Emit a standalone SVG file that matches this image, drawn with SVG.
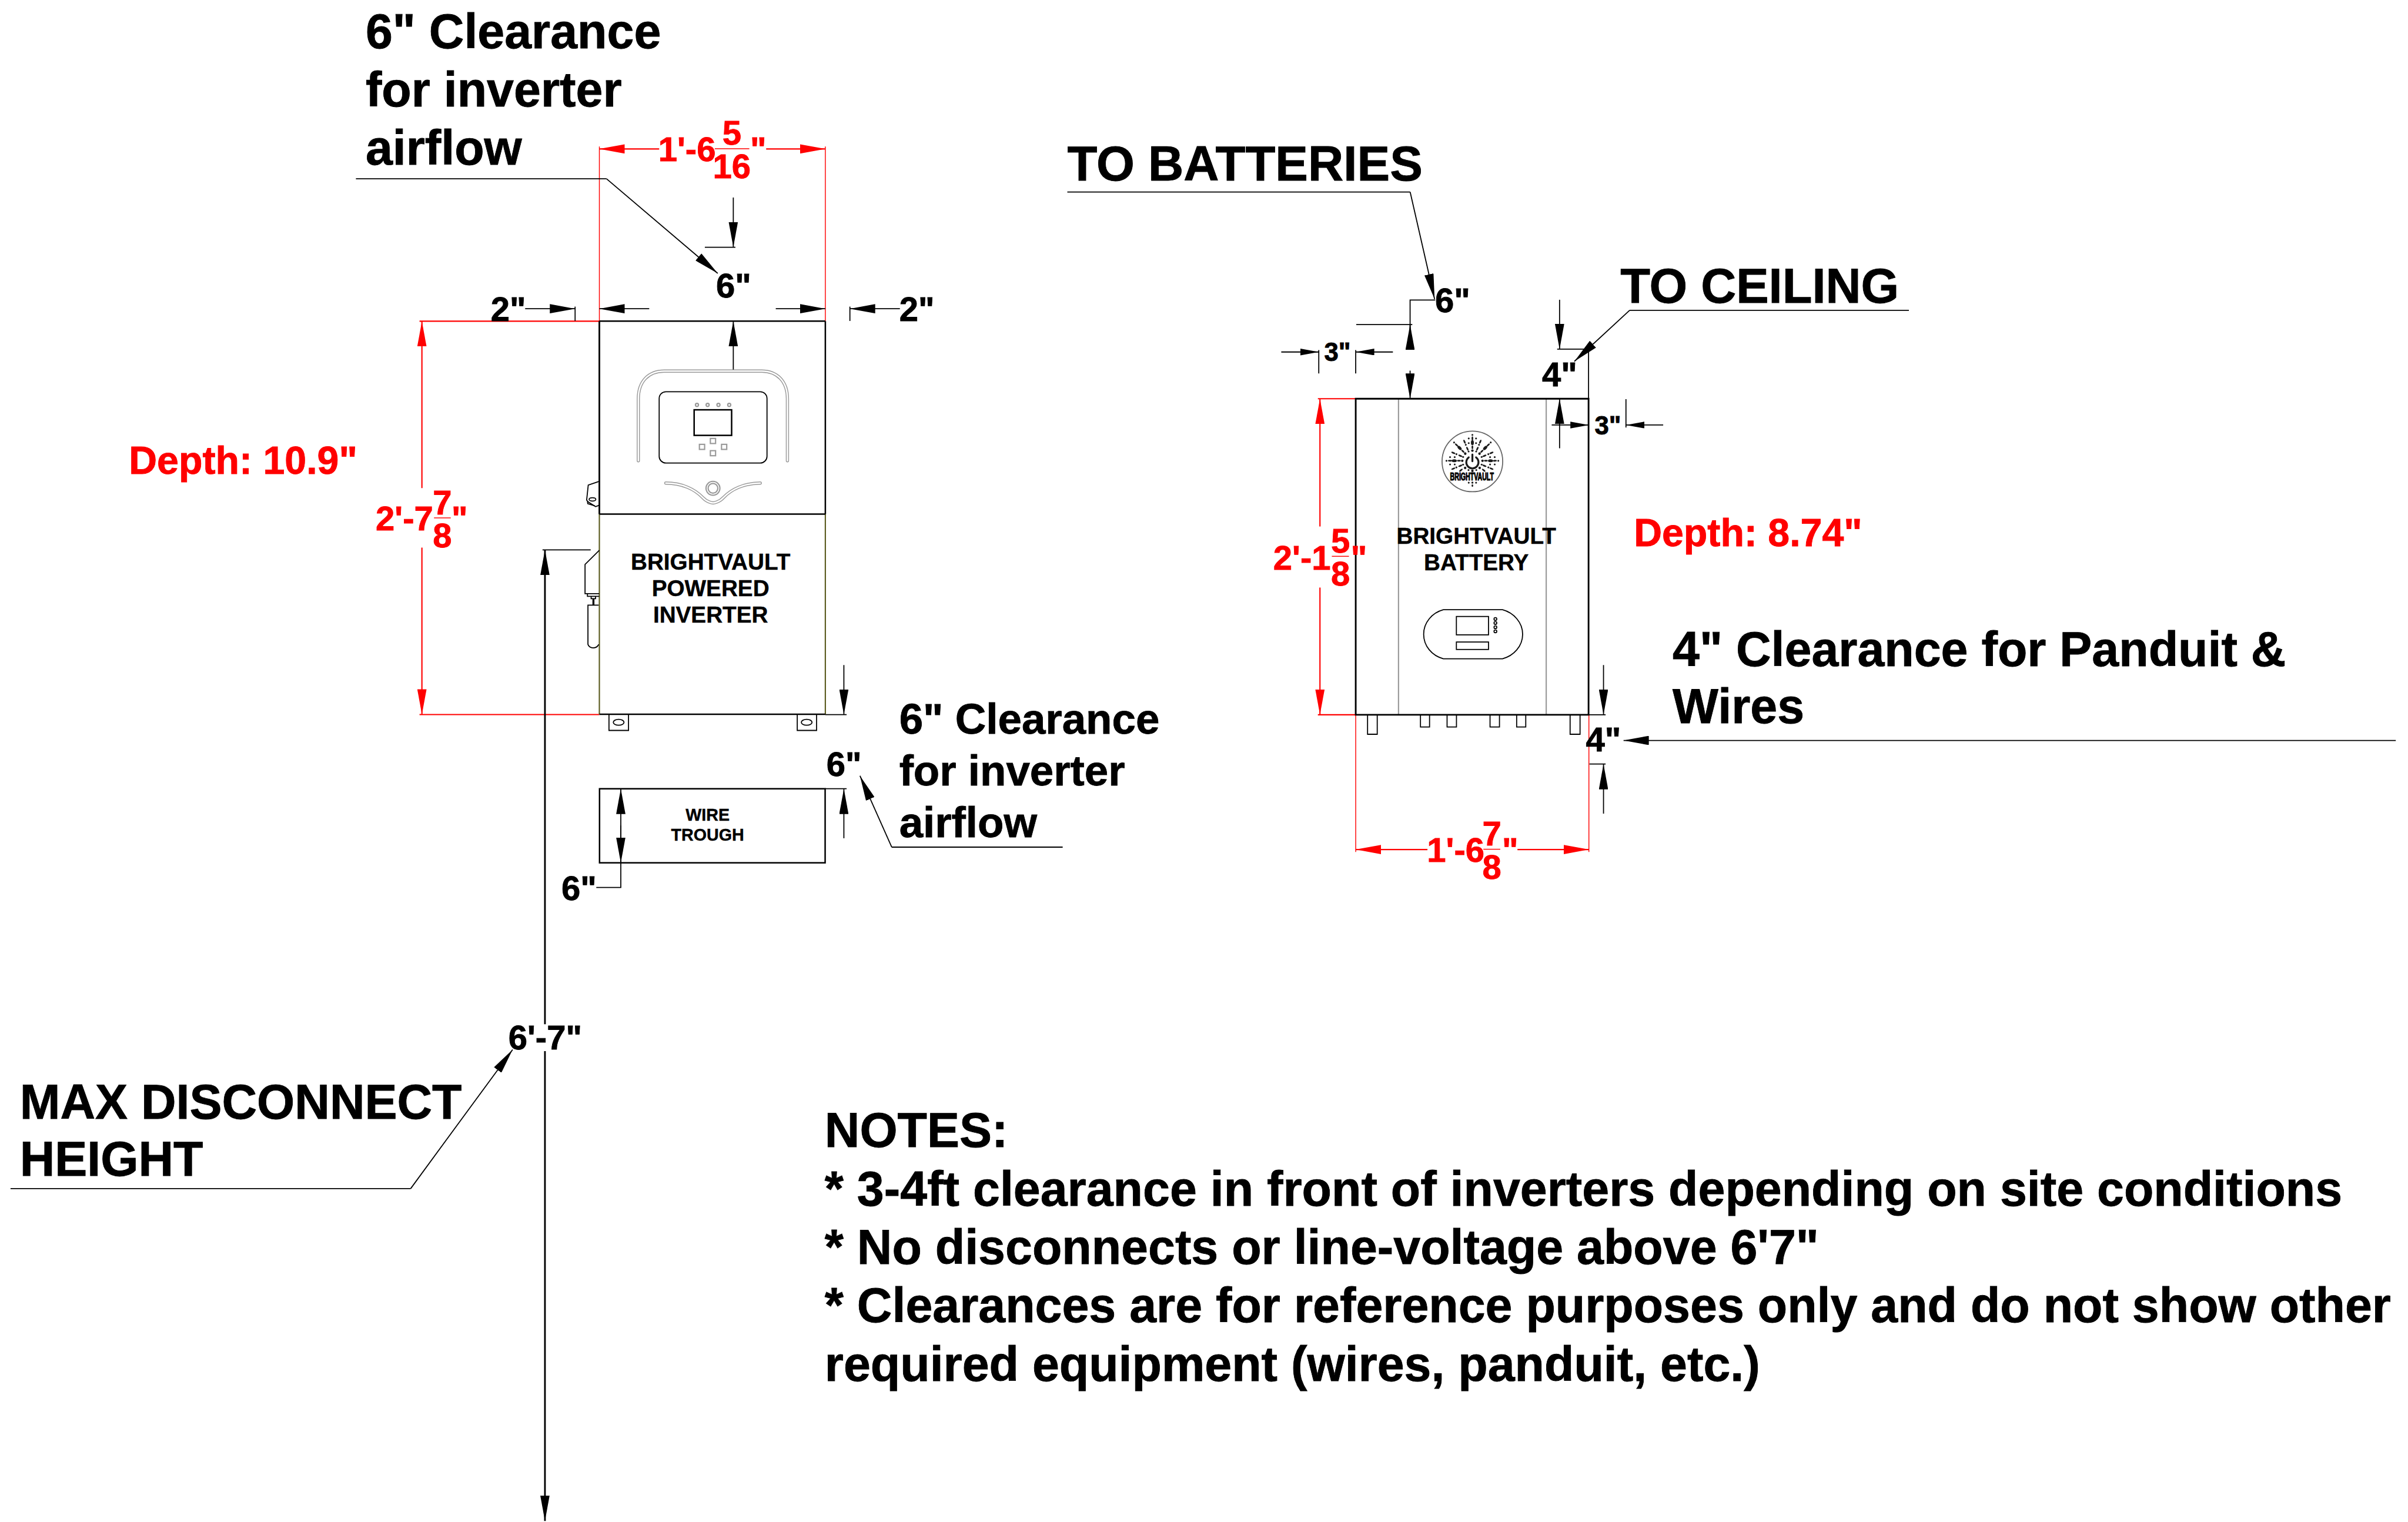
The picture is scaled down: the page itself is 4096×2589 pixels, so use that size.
<svg xmlns="http://www.w3.org/2000/svg" xmlns:xlink="http://www.w3.org/1999/xlink" width="4096" height="2589" viewBox="0 0 4096 2589">
<style>
text{font-family:"Liberation Sans",Arial,sans-serif;font-weight:700;fill:#000;stroke:#000;stroke-width:1.2px}
.r{fill:#f00;stroke:#f00}
.d{font-size:81px}
.s{font-size:61px}
.b{font-size:115.2px}
.m{font-size:101.5px}
.l{font-size:54px;stroke-width:.6px}
.t{font-size:40px;stroke-width:.6px}
.dp{font-size:92.5px}
.c{text-anchor:middle}
.k{fill:none;stroke:#000;stroke-width:2.5}
.h{fill:none;stroke:#000;stroke-width:3.5}
.o{fill:none;stroke:#000;stroke-width:4}
.rl{fill:none;stroke:#f00;stroke-width:3}
.rt{fill:none;stroke:#f00;stroke-width:2}
.g{fill:none;stroke:#999;stroke-width:3}
.gw{fill:none;stroke:#999;stroke-width:7.5;stroke-linecap:round;stroke-linejoin:round}
.ww{fill:none;stroke:#fff;stroke-width:3.5;stroke-linecap:round;stroke-linejoin:round}
.ol{fill:none;stroke:#5c5c20;stroke-width:3}
.a{marker-end:url(#ah)}
.as{marker-end:url(#ahs)}
.ar{marker-end:url(#ahr)}
.lg{fill:#1c1c1c}
</style>
<defs>
<marker id="ah" markerUnits="userSpaceOnUse" markerWidth="62" markerHeight="22" refX="60" refY="11" orient="auto"><path d="M0,0L60,11L0,22Z" fill="#000"/></marker>
<marker id="ahs" markerUnits="userSpaceOnUse" markerWidth="46" markerHeight="17" refX="44" refY="8" orient="auto"><path d="M0,0L44,8L0,16Z" fill="#000"/></marker>
<marker id="ahr" markerUnits="userSpaceOnUse" markerWidth="62" markerHeight="22" refX="60" refY="11" orient="auto"><path d="M0,0L60,11L0,22Z" fill="#f00"/></marker>
<g id="ray" class="lg">
<circle cx="24" cy="0" r="3"/><ellipse cx="32" cy="0" rx="4.5" ry="2"/><ellipse cx="43" cy="0" rx="6" ry="3.5"/><ellipse cx="53" cy="0" rx="5" ry="2"/><circle cx="61.5" cy="0" r="2.2"/>
</g>
<g id="side" class="lg">
<circle cx="42" cy="-8.7" r="2.2"/><circle cx="42" cy="8.7" r="2.2"/><circle cx="53" cy="-8.7" r="2.2"/><circle cx="53" cy="8.7" r="2.2"/><circle cx="22" cy="-9" r="2.2"/><circle cx="22" cy="9" r="2.2"/>
</g>
<g id="mini" class="lg">
<ellipse cx="31" cy="0" rx="5" ry="2"/><circle cx="41" cy="0" r="2.2"/><ellipse cx="49" cy="0" rx="5" ry="2"/>
</g>
</defs>
<rect x="0" y="0" width="4096" height="2589" fill="#fff"/>
<g transform="scale(0.71646)">

<g id="connectors">
<path class="rt" d="M1423,348V762M1959.5,348V762"/>
<path class="rl ar" d="M1565,353.6H1423"/>
<path class="rl ar" d="M1819,353.6H1959.5"/>
<path class="rt" d="M1697,353H1779"/>
<path class="rl" d="M996,762.7H1423M996,1696.5H1423"/>
<path class="rl ar" d="M1001.7,1158.8V762.7"/>
<path class="rl ar" d="M1001.7,1300V1696.5"/>
<path class="rt" d="M1030.4,1229.6H1070.2"/>
<path class="k" d="M845,424.5H1440"/>
<path class="k a" d="M1440,424.5L1704,649"/>
<path class="k a" d="M1741,469V587"/>
<path class="k" d="M1673.4,587H1746"/>
<path class="k a" d="M1741,880V762.4"/>
<path class="k a" d="M1246.8,733H1365.4"/>
<path class="k" d="M1365.4,728V762"/>
<path class="k a" d="M1541.4,733H1423"/>
<path class="k a" d="M1841.8,733H1959.5"/>
<path class="k" d="M2017.8,728V762"/>
<path class="k a" d="M2136.5,733H2017.8"/>
<path class="k" d="M1959.5,1696.6H2010M1959,1872.7H2010"/>
<path class="k a" d="M2003.5,1579V1696.6"/>
<path class="k a" d="M2003.5,1990.2V1872.7"/>
<path class="k a" d="M2117.2,2011.3L2041.7,1841.9"/>
<path class="k" d="M2523,2011.3H2117.2"/>
<path class="k" d="M1415.7,2107H1473.9V1950"/>
<path class="k a" d="M1473.9,1950V1872.7"/>
<path class="k a" d="M1473.9,1960V2048.5"/>
<path class="o a" d="M1293.8,2431.7V1305.5"/>
<path class="o a" d="M1293.8,2495.7V3611"/>
<path class="k" d="M1288,1305.5H1402.4"/>
<path class="k" d="M25,2822H975"/>
<path class="k a" d="M975,2822L1217,2492"/>
<path class="k" d="M2534,456H3348"/>
<path class="k a" d="M3348,456L3406,710"/>
<path class="k" d="M3407.4,712.3H3347.8V830"/>
<path class="k a" d="M3347.8,830V770.7"/>
<path class="k a" d="M3347.8,880V946.7"/>
<path class="k" d="M3220,770.7H3353"/>
<path class="k as" d="M3041.9,835.7H3131"/>
<path class="k as" d="M3307,835.7H3218.7"/>
<path class="k" d="M3131,831V886.7M3218.7,831V886.7"/>
<path class="k a" d="M3702.7,711.7V829"/>
<path class="k" d="M3697,829H3771.5V946.7"/>
<path class="k" d="M3869,736.7H4532"/>
<path class="k a" d="M3869,736.7L3737.8,858"/>
<path class="k a" d="M3702.7,1064.3V946.7"/>
<path class="k as" d="M3684,1009H3772.3"/>
<path class="k" d="M3860.3,947.7V1015"/>
<path class="k as" d="M3948.7,1009H3860.3"/>
<path class="rl" d="M3128.9,946.7H3218.7M3128.9,1697H3218.7"/>
<path class="rl ar" d="M3133.8,1250V946.7"/>
<path class="rl ar" d="M3133.8,1395V1697"/>
<path class="rt" d="M3162,1320.8H3202.6"/>
<path class="rt" d="M3218.7,1697V2022.7M3772.3,1697V2022.7"/>
<path class="rl ar" d="M3389,2017H3218.7"/>
<path class="rl ar" d="M3602.7,2017H3772.3"/>
<path class="rt" d="M3521.7,2016.3H3561.9"/>
<path class="k" d="M3772,1697H3812M3773.6,1814H3812"/>
<path class="k a" d="M3807,1579V1697"/>
<path class="k a" d="M3807,1931.7V1814"/>
<path class="k a" d="M5688,1758H3854.6"/>
</g>

<g id="inverter">
<path class="ol" d="M1423,1220V1696M1959.5,1220V1696"/>
<path class="h" d="M1423,1696H1959.5M1423,762.4H1959.5M1423,1220.5H1959.5"/>
<path class="o" d="M1423,762.4V1220.5"/>
<path class="h" d="M1959.5,762.4V1220.5"/>
<path class="k" d="M1445.8,1697V1734.2H1492.2V1697M1892.8,1697V1734.2H1938.7V1697"/>
<ellipse class="k" cx="1468.8" cy="1714.9" rx="12.7" ry="7"/>
<ellipse class="k" cx="1915.2" cy="1714.9" rx="12.7" ry="7"/>
<path class="gw" d="M1515.5,1094V947C1515.5,905 1540,881 1577,881H1808C1845,881 1869.5,905 1869.5,947V1094"/>
<path class="ww" d="M1515.5,1094V947C1515.5,905 1540,881 1577,881H1808C1845,881 1869.5,905 1869.5,947V1094"/>
<rect class="k" x="1565" y="930" width="256" height="169.3" rx="16" ry="16"/>
<rect class="h" x="1648" y="973" width="89" height="60.7"/>
<g>
<circle class="g" cx="1654.7" cy="961.3" r="3.6"/><circle class="g" cx="1680" cy="961.3" r="3.6"/><circle class="g" cx="1705.7" cy="961.3" r="3.6"/><circle class="g" cx="1731.3" cy="961.3" r="3.6"/>
<rect class="g" x="1686.5" y="1041" width="12.4" height="12"/>
<rect class="g" x="1660.5" y="1055" width="12.4" height="12"/>
<rect class="g" x="1713" y="1055" width="12.4" height="12"/>
<rect class="g" x="1686.5" y="1070" width="12.4" height="12"/>
</g>
<path class="gw" d="M1580.7,1147C1620,1147 1650,1162 1668,1181C1679,1193 1692,1194 1693,1194C1694,1194 1707,1193 1718,1181C1736,1162 1766,1147 1805,1147"/>
<path class="ww" d="M1580.7,1147C1620,1147 1650,1162 1668,1181C1679,1193 1692,1194 1693,1194C1694,1194 1707,1193 1718,1181C1736,1162 1766,1147 1805,1147"/>
<circle class="g" cx="1692.7" cy="1159.3" r="16.5"/>
<circle class="g" cx="1692.7" cy="1159.3" r="11.5"/>
<path class="k" d="M1422.7,1142.8L1396.6,1151.8L1392.8,1187.5L1397,1192L1413.9,1202.8L1422.7,1199.6"/>
<path class="k" d="M1394.7,1190L1395.5,1196L1412,1201"/>
<ellipse class="k" cx="1406.6" cy="1185.6" rx="8" ry="4"/>
<path class="k" d="M1422.7,1306.7L1389,1340V1409.4H1422.7M1394.7,1409.4V1415.8H1422.7M1403.5,1415.8V1421.5H1413.9V1415.8M1407.8,1421.5V1436.8M1410,1421.5V1436.8"/>
<path class="k" d="M1421.5,1436.8H1395.9V1530C1400,1541 1416,1541 1421.5,1530"/>
<text class="l c" x="1687" y="1352.4">BRIGHTVAULT</text>
<text class="l c" x="1687" y="1415.5">POWERED</text>
<text class="l c" x="1687" y="1478.7">INVERTER</text>
</g>

<g id="wire-trough">
<rect class="h" x="1423.4" y="1872.7" width="535.6" height="175.8"/>
<text class="t c" x="1680" y="1948">WIRE</text>
<text class="t c" x="1680" y="1996.5">TROUGH</text>
</g>

<g id="battery">
<path class="g" d="M3320.3,947V1697M3671,947V1697"/>
<path class="o" d="M3218.7,946.7H3771.5V1697H3218.7Z"/>
<path class="k" d="M3246.8,1698V1743.3H3269.8V1698M3372.4,1698V1726H3394V1698M3435.6,1698V1726H3457.9V1698M3537.6,1698V1726H3560V1698M3600.8,1698V1726H3622.4V1698M3727.7,1698V1743.3H3751.3V1698"/>
<g id="battery-logo">
<circle cx="3495.7" cy="1095.5" r="72" fill="#fff" stroke="#666" stroke-width="2.5"/>
<use xlink:href="#ray" href="#ray" transform="translate(3495.7,1094) rotate(-90)"/>
<use xlink:href="#side" href="#side" transform="translate(3495.7,1094) rotate(-90)"/>
<use xlink:href="#ray" href="#ray" transform="translate(3495.7,1094)"/>
<use xlink:href="#side" href="#side" transform="translate(3495.7,1094)"/>
<use xlink:href="#ray" href="#ray" transform="translate(3495.7,1094) rotate(180)"/>
<use xlink:href="#side" href="#side" transform="translate(3495.7,1094) rotate(180)"/>
<use xlink:href="#ray" href="#ray" transform="translate(3495.7,1094) rotate(-45)"/>
<use xlink:href="#ray" href="#ray" transform="translate(3495.7,1094) rotate(-135)"/>
<use xlink:href="#mini" href="#mini" transform="translate(3495.7,1094) rotate(-67.5)"/>
<use xlink:href="#mini" href="#mini" transform="translate(3495.7,1094) rotate(-112.5)"/>
<use xlink:href="#mini" href="#mini" transform="translate(3495.7,1094) rotate(-22.5)"/>
<use xlink:href="#mini" href="#mini" transform="translate(3495.7,1094) rotate(-157.5)"/>
<use xlink:href="#mini" href="#mini" transform="translate(3495.7,1094) rotate(22.5)"/>
<use xlink:href="#mini" href="#mini" transform="translate(3495.7,1094) rotate(157.5)"/>
<g class="lg">
<circle cx="3495.7" cy="1118" r="3"/><circle cx="3486.5" cy="1116" r="2.2"/><circle cx="3505" cy="1116" r="2.2"/>
<circle cx="3478.5" cy="1111" r="3"/><circle cx="3513" cy="1111" r="3"/>
<ellipse cx="3468.5" cy="1116.5" rx="5" ry="2" transform="rotate(-40 3468.5 1116.5)"/>
<ellipse cx="3522.5" cy="1116.5" rx="5" ry="2" transform="rotate(40 3522.5 1116.5)"/>
<circle cx="3495.7" cy="1146" r="2.4"/><ellipse cx="3495.7" cy="1153" rx="2" ry="3"/>
<circle cx="3487" cy="1146" r="2.2"/><circle cx="3504.5" cy="1146" r="2.2"/>
</g>
<path d="M3487,1086A14.5,14.5 0 1 0 3504.4,1086" fill="none" stroke="#1c1c1c" stroke-width="4.5" stroke-linecap="round"/>
<path d="M3495.7,1079V1095" fill="none" stroke="#1c1c1c" stroke-width="4.5" stroke-linecap="round"/>
<text x="3442.7" y="1141" font-size="25px" textLength="104" lengthAdjust="spacingAndGlyphs" style="stroke-width:1.6px">BRIGHTVAULT</text>
</g>
<text class="l c" x="3505" y="1290.4">BRIGHTVAULT</text>
<text class="l c" x="3505" y="1353.5">BATTERY</text>
<path class="k" d="M3426.7,1447.7H3567.3C3594,1455 3615,1478 3615,1506C3615,1534 3594,1557 3567.3,1564H3426.7C3400,1557 3380,1534 3380,1506C3380,1478 3400,1455 3426.7,1447.7Z"/>
<rect class="k" x="3457.7" y="1463.7" width="76.3" height="43.6"/>
<rect class="k" x="3457.7" y="1524.3" width="76.3" height="17.7"/>
<circle class="k" cx="3550.3" cy="1469.7" r="3.3"/><circle class="k" cx="3550.3" cy="1479" r="3.3"/><circle class="k" cx="3550.3" cy="1489.3" r="3.3"/><circle class="k" cx="3550.3" cy="1499" r="3.3"/>
</g>

<g id="labels">
<text class="b" x="868" y="114.5">6" Clearance</text>
<text class="b" x="868" y="253">for inverter</text>
<text class="b" x="868" y="391.5">airflow</text>
<text class="d r" x="1563" y="382.6">1'-6</text>
<text class="d r c" x="1737.5" y="344">5</text>
<text class="d r c" x="1737.5" y="423.5">16</text>
<text class="d r" x="1781" y="382.6">"</text>
<text class="d" x="1700" y="706.6">6"</text>
<text class="d" x="1165" y="762">2"</text>
<text class="d" x="2135" y="762">2"</text>
<text class="r dp" x="306" y="1125">Depth: 10.9"</text>
<text class="d r" x="892" y="1259">2'-7</text>
<text class="d r c" x="1050.3" y="1220.6">7</text>
<text class="d r c" x="1050.3" y="1299">8</text>
<text class="d r" x="1072" y="1259">"</text>
<text class="d" x="1962" y="1843">6"</text>
<text class="m" x="2135" y="1742">6" Clearance</text>
<text class="m" x="2135" y="1864.5">for inverter</text>
<text class="m" x="2135" y="1987">airflow</text>
<text class="d" x="1333" y="2137">6"</text>
<text class="d" x="1207" y="2492">6'-7"</text>
<text class="b" x="47" y="2656">MAX DISCONNECT</text>
<text class="b" x="47" y="2792">HEIGHT</text>
<text class="b" x="1958" y="2723.5">NOTES:</text>
<text class="b" x="1958" y="2862.5">* 3-4ft clearance in front of inverters depending on site conditions</text>
<text class="b" x="1958" y="3001">* No disconnects or line-voltage above 6'7"</text>
<text class="b" x="1958" y="3139.5">* Clearances are for reference purposes only and do not show other</text>
<text class="b" x="1958" y="3278">required equipment (wires, panduit, etc.)</text>
<text class="b" x="2534" y="428" style="font-size:116.5px">TO BATTERIES</text>
<text class="b" x="3847" y="719.5" style="font-size:116px">TO CEILING</text>
<text class="d" x="3407" y="741.7">6"</text>
<text class="d" x="3661" y="916.7">4"</text>
<text class="s" x="3144" y="856.7">3"</text>
<text class="s" x="3786" y="1031">3"</text>
<text class="r dp" x="3879" y="1297">Depth: 8.74"</text>
<text class="d r" x="3023" y="1352">2'-1</text>
<text class="d r c" x="3182.4" y="1312">5</text>
<text class="d r c" x="3182.4" y="1390.8">8</text>
<text class="d r" x="3207" y="1352">"</text>
<text class="d r" x="3388" y="2045.7">1'-6</text>
<text class="d r c" x="3542" y="2006.7">7</text>
<text class="d r c" x="3542" y="2086.7">8</text>
<text class="d r" x="3566" y="2045.7">"</text>
<text class="d" x="3765" y="1784">4"</text>
<text class="b" x="3971" y="1582">4" Clearance for Panduit &amp;</text>
<text class="b" x="3971" y="1717">Wires</text>
</g>
</g>
</svg>
